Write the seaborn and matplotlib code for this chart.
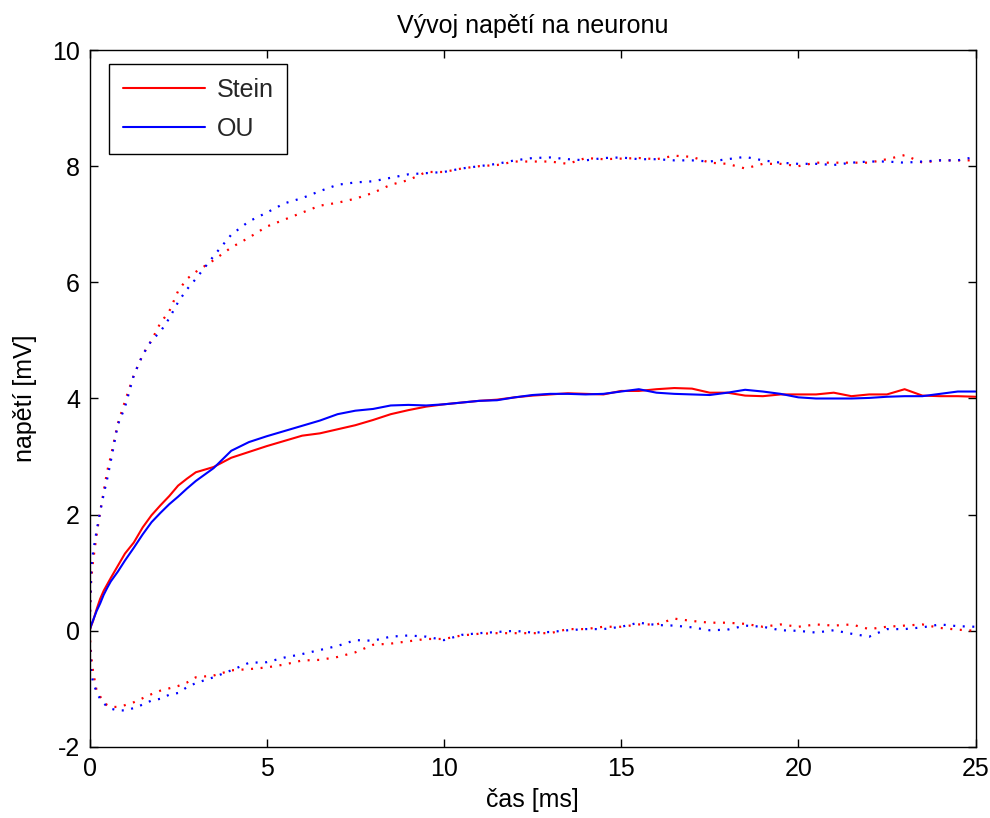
import matplotlib
matplotlib.use("Agg")
import matplotlib.pyplot as plt
import seaborn as sns
import pandas as pd

# ---- data ----
time_ms = [0, 0.05, 0.1, 0.2, 0.3, 0.4, 0.5, 0.6, 0.8, 1.0, 1.25, 1.5, 1.75, 2.0, 2.25,
           2.5, 2.75, 3.0, 3.5, 4.0, 4.5, 5.0, 5.5, 6.0, 6.5, 7.0, 7.5, 8.0, 8.5, 9.0,
           9.5, 10.0, 10.5, 11.0, 11.5, 12.0, 12.5, 13.0, 13.5, 14.0, 14.5, 15.0, 15.5,
           16.0, 16.5, 17.0, 17.5, 18.0, 18.5, 19.0, 19.5, 20.0, 20.5, 21.0, 21.5, 22.0,
           22.5, 23.0, 23.5, 24.0, 24.5, 25.0]

stein_mean = [0, 0.09, 0.17, 0.37, 0.55, 0.69, 0.8, 0.91, 1.12, 1.33, 1.52, 1.78, 1.99, 2.16, 2.32,
              2.5, 2.62, 2.73, 2.82, 2.98, 3.08, 3.18, 3.27, 3.36, 3.4, 3.47, 3.54, 3.63, 3.73, 3.8,
              3.86, 3.9, 3.93, 3.96, 3.98, 4.02, 4.05, 4.07, 4.09, 4.08, 4.07, 4.13, 4.13,
              4.16, 4.18, 4.17, 4.1, 4.1, 4.05, 4.04, 4.07, 4.07, 4.07, 4.1, 4.04, 4.07,
              4.07, 4.16, 4.05, 4.04, 4.04, 4.03]

stein_upper = [0, 0.9, 1.2, 1.65, 2.05, 2.4, 2.75, 3.0, 3.57, 3.95, 4.4, 4.75, 5.0, 5.3, 5.5,
               5.85, 6.06, 6.18, 6.38, 6.6, 6.77, 6.96, 7.08, 7.2, 7.32, 7.37, 7.44, 7.54, 7.68, 7.76,
               7.9, 7.9, 7.96, 8.0, 8.02, 8.08, 8.08, 8.08, 8.04, 8.14, 8.12, 8.13, 8.14,
               8.12, 8.18, 8.16, 8.06, 8.04, 7.96, 8.04, 8.04, 8.0, 8.06, 8.06, 8.06, 8.06,
               8.12, 8.19, 8.06, 8.1, 8.1, 8.1]

stein_lower = [0, -0.45, -0.7, -1.03, -1.13, -1.22, -1.28, -1.31, -1.31, -1.28, -1.23, -1.16, -1.09, -1.03, -0.99,
               -0.95, -0.89, -0.8, -0.77, -0.68, -0.66, -0.63, -0.58, -0.51, -0.5, -0.45, -0.37, -0.24, -0.22, -0.18,
               -0.14, -0.14, -0.08, -0.05, -0.04, -0.04, -0.04, -0.04, 0.03, 0.03, 0.07, 0.07, 0.11,
               0.11, 0.21, 0.17, 0.14, 0.14, 0.12, 0.07, 0.11, 0.07, 0.11, 0.09, 0.11, 0.03,
               0.07, 0.09, 0.11, 0.05, 0.02, 0.0]

ou_mean = [0, 0.1, 0.18, 0.34, 0.47, 0.62, 0.74, 0.85, 1.02, 1.21, 1.43, 1.66, 1.87, 2.03, 2.18,
           2.31, 2.45, 2.58, 2.8, 3.1, 3.25, 3.35, 3.44, 3.53, 3.62, 3.73, 3.79, 3.82, 3.88, 3.89,
           3.88, 3.9, 3.93, 3.96, 3.97, 4.02, 4.06, 4.08, 4.08, 4.07, 4.08, 4.12, 4.16,
           4.1, 4.08, 4.07, 4.06, 4.1, 4.15, 4.12, 4.08, 4.02, 4.0, 4.0, 4.0, 4.01,
           4.03, 4.04, 4.04, 4.08, 4.12, 4.12]

ou_upper = [0, 1.1, 1.35, 1.72, 2.05, 2.35, 2.62, 2.92, 3.55, 3.85, 4.4, 4.75, 5.0, 5.15, 5.38,
            5.66, 5.88, 6.06, 6.45, 6.82, 7.05, 7.2, 7.36, 7.45, 7.57, 7.68, 7.72, 7.74, 7.8, 7.86,
            7.88, 7.9, 7.96, 8.0, 8.04, 8.1, 8.14, 8.15, 8.12, 8.1, 8.14, 8.15, 8.12,
            8.12, 8.1, 8.1, 8.08, 8.12, 8.16, 8.1, 8.06, 8.04, 8.04, 8.02, 8.06, 8.08,
            8.08, 8.06, 8.08, 8.1, 8.1, 8.16]

ou_lower = [0, -0.75, -0.87, -1.06, -1.17, -1.25, -1.3, -1.34, -1.37, -1.37, -1.33, -1.27, -1.2, -1.17, -1.1,
            -1.07, -0.97, -0.9, -0.8, -0.68, -0.55, -0.54, -0.46, -0.4, -0.33, -0.26, -0.16, -0.17, -0.1, -0.08,
            -0.1, -0.16, -0.07, -0.04, -0.02, 0.0, -0.03, -0.02, 0.01, 0.03, 0.03, 0.07, 0.14,
            0.1, 0.09, 0.06, 0.01, 0.02, 0.09, 0.07, 0.01, 0.0, -0.03, 0.01, -0.05, -0.1,
            0.03, 0.03, 0.06, 0.11, 0.08, 0.07]

models = ["Stein", "OU"]
model_colors = {"Stein": "#ff0000", "OU": "#0000ff"}
x_ticks = [0, 5, 10, 15, 20, 25]
y_ticks = [-2, 0, 2, 4, 6, 8, 10]
title_text = "Vývoj napětí na neuronu"
x_label = "čas [ms]"
y_label = "napětí [mV]"

series = {
    "Stein": {"mean": stein_mean, "upper": stein_upper, "lower": stein_lower},
    "OU": {"mean": ou_mean, "upper": ou_upper, "lower": ou_lower},
}

# ---- styling ----
sns.set_style("ticks")
plt.rcParams["font.family"] = ["Liberation Sans", "DejaVu Sans"]

fig = plt.figure(figsize=(9.9, 8.18), dpi=100)
ax = fig.add_axes([89.5 / 990, 1 - 747 / 818, 886 / 990, 697 / 818])

dotted = (0, (0.9, 3.4))
for m in models:
    df = pd.DataFrame({"t": time_ms, "mean": series[m]["mean"],
                       "upper": series[m]["upper"], "lower": series[m]["lower"]})
    sns.lineplot(data=df, x="t", y="mean", color=model_colors[m], lw=1.5,
                 estimator=None, sort=False, label=m, ax=ax)
    sns.lineplot(data=df, x="t", y="upper", color=model_colors[m], lw=1.6,
                 linestyle=dotted, estimator=None, sort=False, label="_nolegend_", ax=ax)
    sns.lineplot(data=df, x="t", y="lower", color=model_colors[m], lw=1.6,
                 linestyle=dotted, estimator=None, sort=False, label="_nolegend_", ax=ax)

ax.set_xlim(0, 25)
ax.set_ylim(-2, 10)
ax.set_xticks(x_ticks)
ax.set_yticks(y_ticks)
ax.set_xticklabels([str(v) for v in x_ticks])
ax.set_yticklabels([str(v) for v in y_ticks])

for s in ax.spines.values():
    s.set_visible(True)
    s.set_color("black")
    s.set_linewidth(1.0)

ax.tick_params(direction="in", length=5.8, width=1.0, top=True, right=True,
               labelsize=18, colors="black")
ax.tick_params(axis="x", pad=7.5)
ax.tick_params(axis="y", pad=6.8)

ax.set_title(title_text, fontsize=18, pad=12, color="black")
ax.set_xlabel(x_label, fontsize=18, labelpad=5, color="black")
ax.set_ylabel(y_label, fontsize=18, labelpad=11, color="black")

handles, labels = ax.get_legend_handles_labels()
leg = ax.legend(handles, labels, loc="upper left", bbox_to_anchor=(0.022, 0.98),
                borderaxespad=0, fontsize=18, frameon=True, fancybox=False,
                handlelength=3.3, handletextpad=0.45, labelspacing=0.6,
                borderpad=0.55)
leg.get_frame().set_edgecolor("black")
leg.get_frame().set_linewidth(1.0)
leg.get_frame().set_alpha(1)

fig.savefig("out.png", dpi=100)
